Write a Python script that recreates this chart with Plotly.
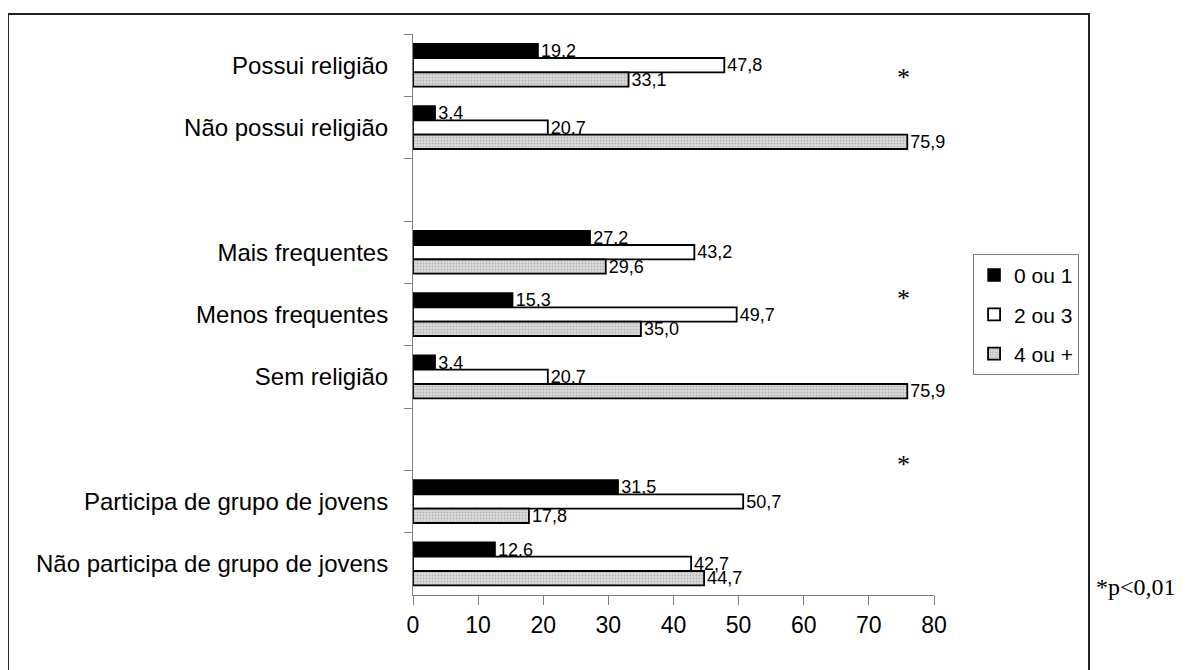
import plotly.graph_objects as go

categories = [
    "Possui religião",
    "Não possui religião",
    " ",
    "Mais frequentes",
    "Menos frequentes",
    "Sem religião",
    "  ",
    "Participa de grupo de jovens",
    "Não participa de grupo de jovens",
]
data_categories = [
    "Possui religião",
    "Não possui religião",
    "Mais frequentes",
    "Menos frequentes",
    "Sem religião",
    "Participa de grupo de jovens",
    "Não participa de grupo de jovens",
]
series_names = ["0 ou 1", "2 ou 3", "4 ou +"]
vals_0_1 = [19.2, 3.4, 27.2, 15.3, 3.4, 31.5, 12.6]
vals_2_3 = [47.8, 20.7, 43.2, 49.7, 20.7, 50.7, 42.7]
vals_4_plus = [33.1, 75.9, 29.6, 35.0, 75.9, 17.8, 44.7]
x_ticks = [0, 10, 20, 30, 40, 50, 60, 70, 80]


def fmt(v):
    return f"{v:.1f}".replace(".", ",")


styles = [
    dict(color="#000000", line=dict(color="#000000", width=1.5)),
    dict(color="#ffffff", line=dict(color="#000000", width=1.8)),
    dict(color="#d0d0d0", line=dict(color="#000000", width=1.8),
         pattern=dict(shape=".", fgcolor="#8c8c8c", bgcolor="#dcdcdc", size=3, solidity=0.35)),
]

fig = go.Figure()
for name, vals, st in zip(series_names, [vals_0_1, vals_2_3, vals_4_plus], styles):
    fig.add_trace(go.Bar(
        y=data_categories, x=vals, orientation="h", name=name,
        marker=st, text=[fmt(v) for v in vals], textposition="outside",
        textfont=dict(family="Liberation Sans", size=18, color="#000"),
        constraintext="none", cliponaxis=False, legendgroup=name,
    ))

fig.update_layout(
    width=1190, height=670,
    margin=dict(l=405, r=264, t=26, b=83, autoexpand=False),
    paper_bgcolor="white", plot_bgcolor="white",
    barmode="group", bargap=0.31, bargroupgap=0,
    font=dict(family="Liberation Sans", size=22, color="#000"),
    showlegend=True,
    legend=dict(x=1.075, y=0.608, xanchor="left", yanchor="top",
                bordercolor="#808080", borderwidth=1, bgcolor="white",
                font=dict(size=21), tracegroupgap=9, traceorder="grouped",
                itemwidth=30),
    xaxis=dict(range=[0, 80], tickvals=x_ticks, ticks="outside", ticklen=9,
               tickcolor="#808080", showline=True, linecolor="#808080", linewidth=1,
               showgrid=False, zeroline=False, tickfont=dict(size=23)),
    yaxis=dict(type="category", categoryorder="array", categoryarray=categories,
               range=[8.5, -0.5], tickson="boundaries", ticks="outside", ticklen=8,
               tickcolor="#808080", showline=True, linecolor="#808080", linewidth=1,
               showgrid=False, tickfont=dict(size=24), ticklabelstandoff=19),
)

# outer frame (bottom edge falls below the visible page)
fig.add_shape(type="rect", xref="paper", yref="paper",
              x0=-0.7774, x1=1.2975, y0=-0.16, y1=1.0357,
              line=dict(color="#222", width=2), layer="below")

for yp in [0.951, 0.528, 0.203]:
    fig.add_annotation(x=0.958, y=yp, xref="paper", yref="paper", text="*",
                       showarrow=False, font=dict(family="Liberation Serif", size=26, color="#000"))
fig.add_annotation(x=1.307, y=-0.0125, xref="paper", yref="paper", text="*p<0,01",
                   xanchor="left", showarrow=False,
                   font=dict(family="Liberation Serif", size=24, color="#000"))

fig.write_html("out.html")
